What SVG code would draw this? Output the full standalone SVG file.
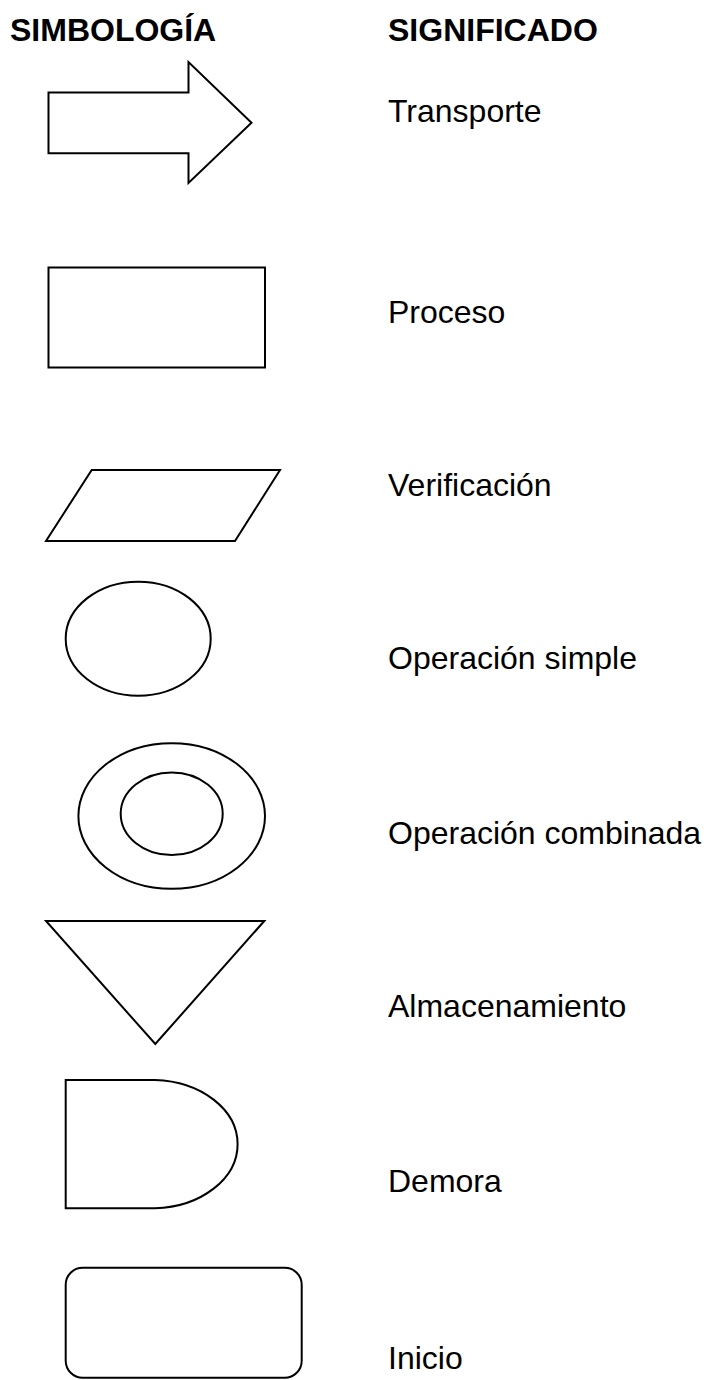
<svg xmlns="http://www.w3.org/2000/svg" width="704" height="1380" viewBox="0 0 704 1380">
<style>
.s{fill:#fff;stroke:#000;stroke-width:2}
.h{font-family:"Liberation Sans",Arial,sans-serif;font-size:32px;font-weight:bold;fill:#000}
.t{font-family:"Liberation Sans",Arial,sans-serif;font-size:32px;fill:#000}
</style>
<rect width="704" height="1380" fill="#fff"/>
<text class="h" x="10" y="40.5">SIMBOLOGÍA</text>
<text class="h" x="388" y="40.5">SIGNIFICADO</text>
<g id="transporte"><polygon class="s" points="48.5,92.5 188.5,92.5 188.5,62 251.5,122.7 188.5,183 188.5,153.3 48.5,153.3"/></g>
<g id="proceso"><rect class="s" x="48.5" y="267.5" width="216.5" height="100"/></g>
<g id="verificacion"><polygon class="s" points="91.7,470 280,470 235,541 46,541"/></g>
<g id="op-simple"><ellipse class="s" cx="138.2" cy="638.7" rx="72.5" ry="57"/></g>
<g id="op-combinada"><ellipse class="s" cx="171.7" cy="816" rx="93.3" ry="72.8"/><ellipse class="s" cx="171.7" cy="813.7" rx="51" ry="41.3"/></g>
<g id="almacenamiento"><polygon class="s" points="46,921 264.3,921 155.3,1044"/></g>
<g id="demora"><path class="s" d="M65.7,1080 H155 A86,64.2 0 0 1 155,1208.3 H65.7 Z"/></g>
<g id="inicio"><rect class="s" x="65.7" y="1267.7" width="236" height="110" rx="17" ry="17"/></g>
<g id="connectors"></g>
<text class="t" x="388" y="121.7">Transporte</text>
<text class="t" x="388" y="322.7">Proceso</text>
<text class="t" x="388" y="496">Verificación</text>
<text class="t" x="388" y="669.3">Operación simple</text>
<text class="t" x="388" y="844">Operación combinada</text>
<text class="t" x="388" y="1016.7">Almacenamiento</text>
<text class="t" x="388" y="1191.7">Demora</text>
<text class="t" x="388" y="1369">Inicio</text>
</svg>
